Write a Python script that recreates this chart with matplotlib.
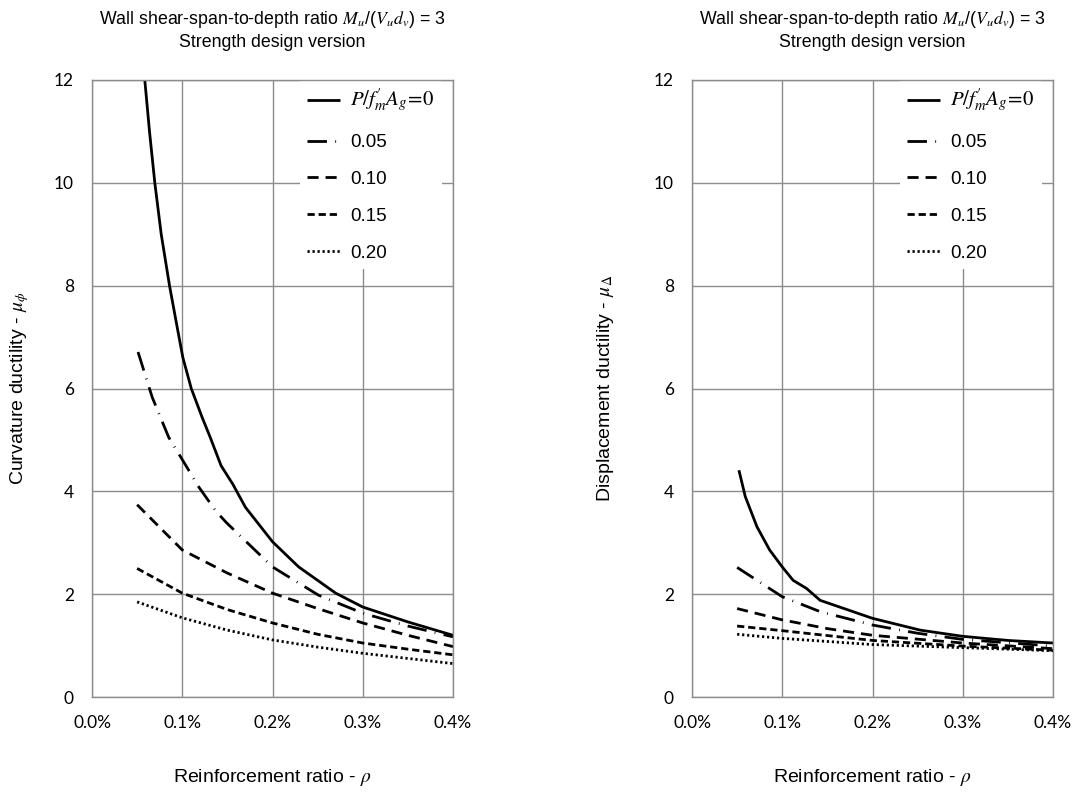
import matplotlib
matplotlib.use("Agg")
import matplotlib.pyplot as plt
from matplotlib.ticker import FuncFormatter

plt.rcParams['mathtext.fontset'] = 'stix'

# Curvature ductility (left panel), x in percent
cur_x0 = [0.0585, 0.0637, 0.0696, 0.0767, 0.0859, 0.0944, 0.1007, 0.110, 0.122, 0.131, 0.143,
          0.156, 0.170, 0.2, 0.229, 0.27, 0.3, 0.35, 0.4]
cur_y0 = [12.0, 11.0, 10.0, 9.0, 8.0, 7.19, 6.6, 6.0, 5.44, 5.05, 4.5,
          4.14, 3.69, 3.02, 2.53, 2.02, 1.75, 1.46, 1.2]
cur_x05 = [0.051, 0.0667, 0.085, 0.102, 0.1185, 0.137, 0.149, 0.2, 0.251, 0.3, 0.35, 0.4]
cur_y05 = [6.71, 5.83, 5.05, 4.56, 4.08, 3.62, 3.39, 2.53, 1.98, 1.63, 1.38, 1.17]
cur_x = [0.05, 0.1, 0.15, 0.2, 0.25, 0.3, 0.35, 0.4]
cur_y10 = [3.74, 2.86, 2.41, 2.02, 1.72, 1.44, 1.2, 0.98]
cur_y15 = [2.5, 2.02, 1.70, 1.44, 1.22, 1.05, 0.93, 0.82]
cur_y20 = [1.85, 1.54, 1.30, 1.11, 0.97, 0.85, 0.75, 0.65]

# Displacement ductility (right panel)
dis_x0 = [0.052, 0.059, 0.072, 0.086, 0.1, 0.112, 0.127, 0.142, 0.2, 0.253, 0.3, 0.35, 0.4]
dis_y0 = [4.41, 3.9, 3.31, 2.86, 2.53, 2.27, 2.11, 1.88, 1.53, 1.30, 1.18, 1.1, 1.05]
dis_x05 = [0.05, 0.1, 0.142, 0.2, 0.25, 0.3, 0.4]
dis_y05 = [2.52, 1.95, 1.66, 1.40, 1.24, 1.12, 0.99]
dis_x10 = [0.05, 0.1, 0.15, 0.2, 0.3, 0.4]
dis_y10 = [1.72, 1.50, 1.33, 1.20, 1.05, 0.94]
dis_x = [0.05, 0.1, 0.2, 0.3, 0.4]
dis_y15 = [1.38, 1.29, 1.10, 0.99, 0.91]
dis_y20 = [1.22, 1.14, 1.02, 0.96, 0.90]

labels = [r"$P/f_{m}^{\prime}A_{g}\!=\!0$", "0.05", "0.10", "0.15", "0.20"]
styles = ['-', (0, (7, 3, 0.3, 3)), (0, (4, 2.5)), (0, (2.6, 1.4)), (0, (0.8, 1.0))]

title = "Wall shear-span-to-depth ratio $\\mathit{M_u}$/($\\mathit{V_u d_v}$) = 3\nStrength design version"

fig = plt.figure(figsize=(10.76, 7.92), dpi=100)
W, H = 1076, 792
ax1 = fig.add_axes([92 / W, 1 - 697 / H, 361 / W, 617 / H])
ax2 = fig.add_axes([692 / W, 1 - 697 / H, 361 / W, 617 / H])

panels = [
    (ax1, [(cur_x0, cur_y0), (cur_x05, cur_y05), (cur_x, cur_y10), (cur_x, cur_y15), (cur_x, cur_y20)],
     r"Curvature ductility - $\mu_{\phi}$", -0.2),
    (ax2, [(dis_x0, dis_y0), (dis_x05, dis_y05), (dis_x10, dis_y10), (dis_x, dis_y15), (dis_x, dis_y20)],
     r"Displacement ductility - $\mu_{\Delta}$", -0.24),
]

for ax, series, ylab, ylx in panels:
    for (xs, ys), ls, lab in zip(series, styles, labels):
        ax.plot(xs, ys, color='black', linestyle=ls, linewidth=2.0, label=lab,
                solid_capstyle='butt', dash_capstyle='butt')
    ax.set_xlim(0, 0.4)
    ax.set_ylim(0, 12)
    ax.set_xticks([0, 0.1, 0.2, 0.3, 0.4])
    ax.set_yticks(range(0, 13, 2))
    ax.xaxis.set_major_formatter(FuncFormatter(lambda v, p: f"{v:.1f}%"))
    ax.grid(True, color='#8c8c8c', linewidth=1.0)
    ax.set_axisbelow(True)
    for s in ax.spines.values():
        s.set_color('#8c8c8c')
        s.set_linewidth(1.0)
    ax.tick_params(length=0, pad=13, labelsize=12.5)
    for t in ax.get_xticklabels() + ax.get_yticklabels():
        t.set_fontfamily('Lato')
    ax.set_ylabel(ylab, fontsize=14, fontfamily='Liberation Sans', va='center')
    ax.yaxis.set_label_coords(ylx, 0.5)
    ax.set_xlabel(r"Reinforcement ratio - $\rho$", fontsize=14, fontfamily='Liberation Sans', va='center')
    ax.xaxis.set_label_coords(0.5, -0.13)
    ax.set_title(title, fontsize=12.8, fontfamily='Liberation Sans', pad=24, linespacing=1.3)
    leg = ax.legend(loc='upper right', bbox_to_anchor=(1.0, 1.019), frameon=True, framealpha=1,
                    edgecolor='none', handlelength=1.75, handletextpad=0.55, labelspacing=1.05,
                    borderaxespad=0.6, borderpad=0.4, prop={'family': 'Liberation Sans', 'size': 13.5})
    leg.get_frame().set_linewidth(0)
    leg.get_texts()[0].set_fontsize(15)
    leg.set_zorder(2.2)  # above the curves, below the spines

fig.savefig("out.png", dpi=100)
